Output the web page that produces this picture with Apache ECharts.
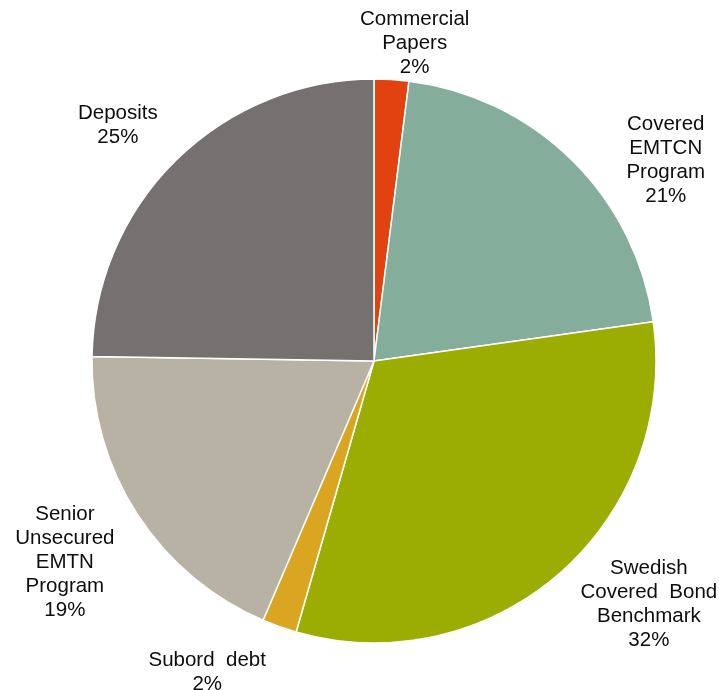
<!DOCTYPE html>
<html>
<head>
<meta charset="utf-8">
<title>Funding sources</title>
<script src="https://cdn.jsdelivr.net/npm/echarts@6/dist/echarts.min.js"></script>
<style>
  html, body { margin: 0; padding: 0; background: #ffffff; }
  #chart { width: 719px; height: 690px; }
</style>
</head>
<body>
<div id="chart"></div>
<script>
// Funding mix, share of total (%), clockwise from 12 o'clock
const categories = [
  'Commercial\nPapers',
  'Covered\nEMTCN\nProgram',
  'Swedish\nCovered  Bond\nBenchmark',
  'Subord  debt',
  'Senior\nUnsecured\nEMTN\nProgram',
  'Deposits'
];
const shares = [2, 21, 32, 2, 19, 25];
const colors = ['#E2420F', '#84AD9C', '#9BAD00', '#DAA520', '#B8B2A4', '#767171'];

// Pie geometry (px)
const CX = 374, CY = 361, R = 282;
// Label placement around the pie: bearing (deg, clockwise from top) and distance from centre (px)
const labelBearing = [7.3, 55.5, 131.5, 208.2, 236.9, 312.6];
const labelDistance = [320, 354, 367, 353, 369, 348];

const chart = echarts.init(document.getElementById('chart'), null, { renderer: 'canvas' });

chart.setOption({
  animation: false,
  backgroundColor: '#ffffff',
  series: [{
    type: 'pie',
    center: [CX, CY],
    radius: [0, R],
    startAngle: 90,
    clockwise: true,
    avoidLabelOverlap: false,
    data: categories.map((name, i) => ({
      name: name,
      value: shares[i],
      itemStyle: { color: colors[i] }
    })),
    itemStyle: { borderColor: '#ffffff', borderWidth: 1.5 },
    emphasis: { disabled: true },
    label: {
      show: true,
      position: 'outside',
      formatter: p => p.name + '\n' + p.value + '%',
      fontFamily: '"Liberation Sans", Arial, sans-serif',
      fontSize: 20.5,
      lineHeight: 24,
      color: '#0d0d0d',
      align: 'center'
    },
    labelLine: { show: false },
    labelLayout: function (params) {
      const i = params.dataIndex;
      const a = labelBearing[i] * Math.PI / 180;
      return {
        x: CX + labelDistance[i] * Math.sin(a),
        y: CY - labelDistance[i] * Math.cos(a),
        align: 'center',
        verticalAlign: 'middle'
      };
    }
  }]
});
</script>
</body>
</html>
